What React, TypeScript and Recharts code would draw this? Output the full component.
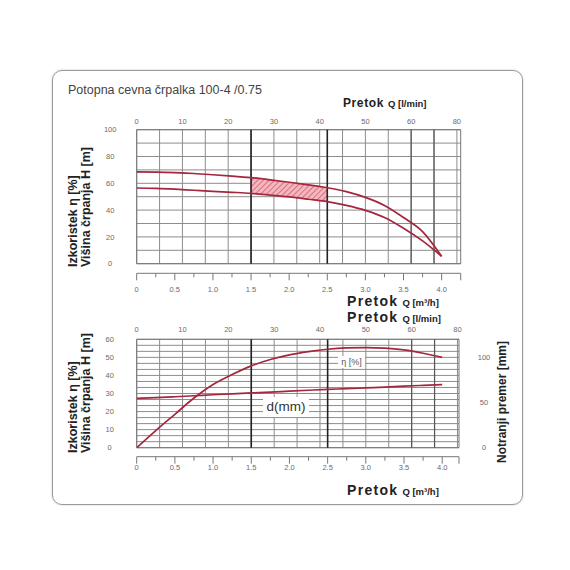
import {
  ComposedChart,
  Line,
  Area,
  XAxis,
  YAxis,
  CartesianGrid,
  ReferenceLine,
  ReferenceArea,
} from 'recharts';

// flow in m3/h
const flow = [0, 0.25, 0.5, 0.75, 1, 1.25, 1.5, 1.75, 2, 2.25, 2.5, 2.75, 3, 3.25, 3.5, 3.75, 4];
// top chart curves
const headUpper = [68.5, 68.3, 67.9, 67.3, 66.4, 65.4, 64.2, 62.6, 60.8, 58.8, 56.7, 53.8, 49.5, 43.5, 34.5, 24, 5.5];
const headLower = [56.5, 56.2, 55.6, 54.8, 54.0, 53.3, 52.5, 51.2, 49.8, 48.1, 46.3, 43.5, 39.8, 34.5, 26.5, 17, 5.5];
// bottom chart curves
const efficiency = [0, 9.5, 18.5, 27.5, 35, 40.5, 45.3, 48.8, 51.4, 53.2, 54.5, 55.2, 55.4, 55.1, 54.1, 52.3, 50];
const diameter = [54.5, 55.4, 56.4, 57.5, 58.6, 59.6, 60.6, 61.5, 62.6, 63.6, 64.6, 65.3, 66.2, 67.1, 68.1, 69, 69.8];
const bestRange = [1.5, 2.5];

// axes
const flowTicks = [0, 0.25, 0.5, 0.75, 1, 1.25, 1.5, 1.75, 2, 2.25, 2.5, 2.75, 3, 3.25, 3.5, 3.75, 4];
const flowLabelValues = [0, 0.5, 1, 1.5, 2, 2.5, 3, 3.5, 4];
const flowTickLabels = ['0', '0.5', '1.0', '1.5', '2.0', '2.5', '3.0', '3.5', '4.0'];
const lminTicks = [0, 10, 20, 30, 40, 50, 60, 70];
const lminTickLabels = ['0', '10', '20', '30', '40', '50', '60', '80'];
const lminGrid = [0, 5, 10, 15, 20, 25, 30, 35, 40, 45, 50, 55, 60, 65, 70];
const lminDark = [60, 65];
const headTicks = [0, 20, 40, 60, 80, 100];
const headGrid = [0, 10, 20, 30, 40, 50, 60, 70, 80, 90, 100];
const etaTicks = [0, 10, 20, 30, 40, 50, 60];
const etaGrid = [0, 3.33, 6.67, 10, 13.33, 16.67, 20, 23.33, 26.67, 30, 33.33, 36.67, 40, 43.33, 46.67, 50, 53.33, 56.67, 60];
const diaTicks = [0, 50, 100];

const TOP_MAX = 4.25;
const BOTTOM_MAX = 4.22;
const LPM = 1000 / 60; // m3/h -> l/min

const topData = flow.map((q, i) => ({
  q,
  upper: headUpper[i],
  lower: headLower[i],
  band: q >= bestRange[0] && q <= bestRange[1] ? [headLower[i], headUpper[i]] : null,
}));

const bottomData = flow.map((q, i) => ({ q, eta: efficiency[i], d: diameter[i] }));

const toLmin = (row: { q: number }) => row.q * LPM;

const CURVE = '#a3283d';
const GRID = '#8d8d8d';
const TICK = '#6a6a6a';

function FlowTick(props: any) {
  const { x, y, payload, gap, labelDy } = props;
  const v = payload.value;
  const idx = flowLabelValues.indexOf(v);
  const long = idx >= 0 || v > 4;
  const y0 = y + gap;
  return (
    <g>
      <line x1={x} x2={x} y1={y0} y2={y0 + (long ? 7 : 4)} stroke="#777" />
      {idx >= 0 && (
        <text x={x} y={y + labelDy} textAnchor="middle" fontSize={7.5} fill={TICK}>
          {flowTickLabels[idx]}
        </text>
      )}
    </g>
  );
}

function LminTick(props: any) {
  const { x, y, payload, lift } = props;
  const idx = lminTicks.indexOf(payload.value);
  return (
    <text x={x} y={y - lift} textAnchor="middle" fontSize={7.5} fill={TICK}>
      {lminTickLabels[idx]}
    </text>
  );
}

function SideTick(props: any) {
  const { x, y, payload, dx } = props;
  return (
    <text x={x + dx} y={y} dy="0.35em" textAnchor="middle" fontSize={7.5} fill={TICK}>
      {payload.value}
    </text>
  );
}

function Pretok({ left, cy, unit, big = true }: { left: number; cy: number; unit: string; big?: boolean }) {
  return (
    <div
      style={{
        position: 'absolute',
        left,
        top: cy,
        transform: 'translateY(-50%)',
        whiteSpace: 'nowrap',
        lineHeight: '12px',
        color: '#222',
        fontWeight: 'bold',
      }}
    >
      <span style={{ fontSize: big ? 14 : 12, letterSpacing: big ? 1.3 : 0.6 }}>Pretok</span>
      <span style={{ fontSize: 9.5, marginLeft: 4 }}>Q [{unit}]</span>
    </div>
  );
}

function Vertical({ text, left, bottom }: { text: string; left: number; bottom: number }) {
  // rotated label that starts at `bottom` and runs upwards
  return (
    <div
      style={{
        position: 'absolute',
        left,
        top: bottom,
        transform: 'rotate(-90deg)',
        transformOrigin: '0 0',
        whiteSpace: 'nowrap',
        fontSize: 12.5,
        lineHeight: '13px',
        fontWeight: 'bold',
        color: '#222',
      }}
    >
      {text}
    </div>
  );
}

export default function App() {
  return (
    <div
      style={{
        position: 'absolute',
        left: 0,
        top: 0,
        width: 570,
        height: 570,
        background: '#fff',
        fontFamily: "'Liberation Sans', Arial, sans-serif",
      }}
    >
      <div
        style={{
          position: 'absolute',
          left: 52,
          top: 70,
          width: 469,
          height: 433,
          border: '1.5px solid #9a9a9a',
          borderRadius: 10,
          boxShadow: '0 0 2px rgba(0,0,0,0.25)',
        }}
      />
      <div
        style={{ position: 'absolute', left: 68, top: 84, fontSize: 12.5, color: '#444', whiteSpace: 'nowrap', lineHeight: 1 }}
      >
        Potopna cevna črpalka 100-4 /0.75
      </div>

      <Pretok left={343} cy={102.7} unit="l/min" big={false} />
      <Pretok left={347} cy={301.5} unit="m³/h" />
      <Pretok left={347} cy={317.5} unit="l/min" />
      <Pretok left={347} cy={490.7} unit="m³/h" />

      <Vertical text="Izkoristek η [%]" left={66.8} bottom={266.7} />
      <Vertical text="Višina črpanja H [m]" left={80.2} bottom={266.7} />
      <Vertical text="Izkoristek η [%]" left={66.8} bottom={453.3} />
      <Vertical text="Višina črpanja H [m]" left={80.2} bottom={453.3} />
      <div
        style={{
          position: 'absolute',
          left: 501.7,
          top: 401.5,
          transform: 'translate(-50%, -50%) rotate(-90deg)',
          whiteSpace: 'nowrap',
          fontSize: 12,
          lineHeight: 1,
          fontWeight: 'bold',
          color: '#222',
        }}
      >
        Notranji premer [mm]
      </div>

      {/* H / Q chart */}
      <div style={{ position: 'absolute', left: 60, top: 100 }}>
        <ComposedChart width={420} height={200} data={topData} margin={{ top: 0, right: 19.3, bottom: 0, left: 0 }}>
          <defs>
            <pattern id="hatch" patternUnits="userSpaceOnUse" width={4} height={4} patternTransform="rotate(45)">
              <rect width={4} height={4} fill="#f3b7c0" />
              <line x1={0} y1={0} x2={0} y2={4} stroke="#d0465a" strokeWidth={1.3} />
            </pattern>
          </defs>
          <XAxis
            xAxisId="lmin"
            orientation="top"
            dataKey={toLmin}
            type="number"
            domain={[0, TOP_MAX * LPM]}
            allowDataOverflow
            ticks={lminTicks}
            interval={0}
            height={29.7}
            axisLine={false}
            tickLine={false}
            tickSize={0}
            tickMargin={0}
            tick={(p: any) => <LminTick {...p} lift={6} />}
          />
          <XAxis
            xAxisId="q"
            dataKey="q"
            type="number"
            domain={[0, TOP_MAX]}
            allowDataOverflow
            ticks={[...flowTicks, TOP_MAX]}
            interval={0}
            height={36.3}
            axisLine={{ stroke: '#777', transform: 'translate(0, 9.6)' }}
            tickLine={false}
            tickSize={0}
            tickMargin={0}
            tick={(p: any) => <FlowTick {...p} gap={9.6} labelDy={28} />}
          />
          <YAxis
            yAxisId="h"
            type="number"
            domain={[0, 100]}
            ticks={headTicks}
            interval={0}
            width={76.7}
            axisLine={false}
            tickLine={false}
            tickSize={0}
            tickMargin={0}
            tick={(p: any) => <SideTick {...p} dx={-26.5} />}
          />
          <CartesianGrid
            xAxisId="lmin"
            yAxisId="h"
            verticalValues={lminGrid}
            horizontalValues={headGrid}
            stroke={GRID}
            strokeDasharray=""
          />
          {lminDark.map((v) => (
            <ReferenceLine key={v} xAxisId="lmin" yAxisId="h" x={v} stroke="#555" strokeWidth={1.2} />
          ))}
          <Area
            xAxisId="q"
            yAxisId="h"
            dataKey="band"
            type="monotone"
            stroke="none"
            fill="url(#hatch)"
            fillOpacity={1}
            isAnimationActive={false}
          />
          {bestRange.map((v) => (
            <ReferenceLine key={v} xAxisId="q" yAxisId="h" x={v} stroke="#222" strokeWidth={1.6} />
          ))}
          <ReferenceArea xAxisId="q" yAxisId="h" x1={0} x2={TOP_MAX} y1={0} y2={100} fill="none" stroke="#777" />
          <Line xAxisId="q" yAxisId="h" dataKey="upper" type="monotone" stroke={CURVE} strokeWidth={1.7} dot={false} isAnimationActive={false} />
          <Line xAxisId="q" yAxisId="h" dataKey="lower" type="monotone" stroke={CURVE} strokeWidth={1.7} dot={false} isAnimationActive={false} />
        </ComposedChart>
      </div>

      {/* efficiency / diameter chart */}
      <div style={{ position: 'absolute', left: 60, top: 305 }}>
        <ComposedChart width={440} height={170} data={bottomData} margin={{ top: 0, right: 0, bottom: 0, left: 0 }}>
          <XAxis
            xAxisId="lmin"
            orientation="top"
            dataKey={toLmin}
            type="number"
            domain={[0, BOTTOM_MAX * LPM]}
            allowDataOverflow
            ticks={lminTicks}
            interval={0}
            height={34.3}
            axisLine={false}
            tickLine={false}
            tickSize={0}
            tickMargin={0}
            tick={(p: any) => <LminTick {...p} lift={7} />}
          />
          <XAxis
            xAxisId="q"
            dataKey="q"
            type="number"
            domain={[0, BOTTOM_MAX]}
            allowDataOverflow
            ticks={[...flowTicks, BOTTOM_MAX]}
            interval={0}
            height={27.3}
            axisLine={{ stroke: '#777', transform: 'translate(0, 9)' }}
            tickLine={false}
            tickSize={0}
            tickMargin={0}
            tick={(p: any) => <FlowTick {...p} gap={9} labelDy={22.5} />}
          />
          <YAxis
            yAxisId="eta"
            type="number"
            domain={[0, 60]}
            ticks={etaTicks}
            interval={0}
            width={76.7}
            axisLine={false}
            tickLine={false}
            tickSize={0}
            tickMargin={0}
            tick={(p: any) => <SideTick {...p} dx={-27} />}
          />
          <YAxis
            yAxisId="d"
            orientation="right"
            type="number"
            domain={[0, 120]}
            ticks={diaTicks}
            interval={0}
            width={41}
            axisLine={false}
            tickLine={false}
            tickSize={0}
            tickMargin={0}
            tick={(p: any) => <SideTick {...p} dx={25} />}
          />
          <CartesianGrid
            xAxisId="lmin"
            yAxisId="eta"
            verticalValues={lminGrid}
            horizontalValues={etaGrid}
            stroke={GRID}
            strokeDasharray=""
          />
          {lminDark.map((v) => (
            <ReferenceLine key={v} xAxisId="lmin" yAxisId="eta" x={v} stroke="#555" strokeWidth={1.2} />
          ))}
          {bestRange.map((v) => (
            <ReferenceLine key={v} xAxisId="q" yAxisId="eta" x={v} stroke="#222" strokeWidth={1.6} />
          ))}
          <ReferenceArea xAxisId="q" yAxisId="eta" x1={0} x2={BOTTOM_MAX} y1={0} y2={60} fill="none" stroke="#777" />
          <Line xAxisId="q" yAxisId="eta" dataKey="eta" type="monotone" stroke={CURVE} strokeWidth={1.7} dot={false} isAnimationActive={false} />
          <Line xAxisId="q" yAxisId="d" dataKey="d" type="monotone" stroke={CURVE} strokeWidth={1.7} dot={false} isAnimationActive={false} />
        </ComposedChart>
      </div>

      <div
        style={{
          position: 'absolute',
          left: 338,
          top: 356,
          width: 27,
          height: 12,
          background: '#fff',
          fontSize: 9,
          lineHeight: '12px',
          textAlign: 'center',
          color: '#555',
        }}
      >
        η [%]
      </div>
      <div
        style={{
          position: 'absolute',
          left: 263,
          top: 397,
          width: 46,
          height: 20,
          background: '#fff',
          fontSize: 13.5,
          lineHeight: '20px',
          textAlign: 'center',
          color: '#333',
        }}
      >
        d(mm)
      </div>
    </div>
  );
}
